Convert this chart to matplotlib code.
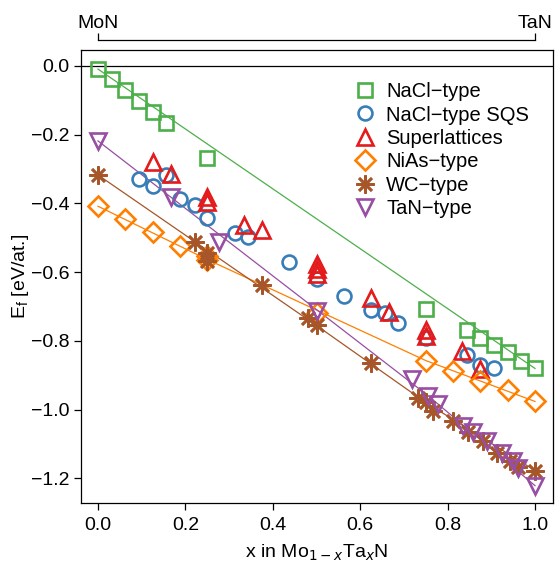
import matplotlib
matplotlib.use("Agg")
import matplotlib.pyplot as plt

plt.rcParams['font.family'] = ['Liberation Sans', 'DejaVu Sans']

# NaCl-type
nacl_x = [0.0, 0.03125, 0.0625, 0.09375, 0.125, 0.15625, 0.25, 0.75, 0.84375, 0.875, 0.90625, 0.9375, 0.96875, 1.0]
nacl_y = [-0.009, -0.038, -0.070, -0.102, -0.134, -0.166, -0.269, -0.706, -0.769, -0.790, -0.811, -0.833, -0.857, -0.880]

# NaCl-type SQS
sqs_x = [0.09375, 0.125, 0.15625, 0.1875, 0.222, 0.25, 0.3125, 0.34375, 0.4375, 0.5, 0.5625, 0.625, 0.65625, 0.6875, 0.75, 0.84375, 0.875, 0.90625]
sqs_y = [-0.329, -0.350, -0.318, -0.387, -0.405, -0.443, -0.487, -0.498, -0.571, -0.620, -0.670, -0.709, -0.719, -0.749, -0.790, -0.842, -0.871, -0.880]

# Superlattices
sl_x = [0.125, 0.1667, 0.25, 0.25, 0.3333, 0.375, 0.5, 0.5, 0.5, 0.625, 0.6667, 0.75, 0.75, 0.8333, 0.875]
sl_y = [-0.279, -0.315, -0.382, -0.396, -0.464, -0.478, -0.575, -0.590, -0.605, -0.676, -0.717, -0.769, -0.787, -0.830, -0.882]

# NiAs-type
nias_x = [0.0, 0.0625, 0.125, 0.1875, 0.25, 0.25, 0.5, 0.75, 0.8125, 0.875, 0.9375, 1.0]
nias_y = [-0.408, -0.446, -0.484, -0.524, -0.553, -0.563, -0.719, -0.857, -0.886, -0.916, -0.944, -0.976]
nias_line_x = [0.0, 0.25, 0.75, 1.0]
nias_line_y = [-0.408, -0.563, -0.857, -0.976]

# WC-type
wc_x = [0.0, 0.222, 0.25, 0.25, 0.375, 0.48, 0.5, 0.625, 0.732, 0.75, 0.767, 0.8125, 0.847, 0.881, 0.913, 0.943, 0.961, 1.0]
wc_y = [-0.317, -0.513, -0.543, -0.566, -0.638, -0.734, -0.755, -0.865, -0.965, -0.979, -1.003, -1.032, -1.066, -1.090, -1.125, -1.149, -1.168, -1.177]
wc_line_x = [0.0, 0.5, 0.75, 1.0]
wc_line_y = [-0.317, -0.755, -0.979, -1.177]

# TaN-type
tan_x = [0.0, 0.1667, 0.2778, 0.5, 0.718, 0.755, 0.778, 0.835, 0.858, 0.89, 0.924, 0.95, 0.96, 1.0]
tan_y = [-0.218, -0.382, -0.513, -0.712, -0.910, -0.959, -0.982, -1.047, -1.066, -1.090, -1.125, -1.149, -1.171, -1.221]
tan_line_x = [0.0, 0.755, 1.0]
tan_line_y = [-0.218, -0.959, -1.221]

fs = 14
W, H = 557, 572
fig = plt.figure(figsize=(W/100, H/100), dpi=100)
ax = fig.add_axes([80.5/W, 1 - 502.5/H, (552.5-80.5)/W, (502.5-49.5)/H])

ax.axhline(0, color='black', lw=0.9, zorder=1)

# reference lines
ax.plot([nacl_x[0], nacl_x[-1]], [nacl_y[0], nacl_y[-1]], color='#4DAF4A', lw=0.9, zorder=2)
ax.plot(nias_line_x, nias_line_y, color='#FF7F00', lw=0.9, zorder=2)
ax.plot(wc_line_x, wc_line_y, color='#A65628', lw=0.9, zorder=2)
ax.plot(tan_line_x, tan_line_y, color='#984EA3', lw=0.9, zorder=2)

mew = 1.9
ax.plot(nacl_x, nacl_y, ls='none', marker='s', ms=9.5, mfc='none', mec='#4DAF4A', mew=mew, label='NaCl\u2212type', zorder=3)
ax.plot(sqs_x, sqs_y, ls='none', marker='o', ms=10, mfc='none', mec='#377EB8', mew=mew, label='NaCl\u2212type SQS', zorder=3)
ax.plot(sl_x, sl_y, ls='none', marker='^', ms=12, mfc='none', mec='#E41A1C', mew=mew, label='Superlattices', zorder=3)
ax.plot(nias_x, nias_y, ls='none', marker='D', ms=10, mfc='none', mec='#FF7F00', mew=mew, label='NiAs\u2212type', zorder=3)
ax.plot(wc_x, wc_y, ls='none', marker=(8, 2, 0), ms=13, mfc='none', mec='#A65628', mew=mew, label='WC\u2212type', zorder=3)
ax.plot(tan_x, tan_y, ls='none', marker='v', ms=12, mfc='none', mec='#984EA3', mew=mew, label='TaN\u2212type', zorder=3)

ax.set_xlim(-0.04, 1.04)
ax.set_ylim(-1.27, 0.048)
ax.set_xticks([0, 0.2, 0.4, 0.6, 0.8, 1.0])
ax.set_xticklabels(['0.0', '0.2', '0.4', '0.6', '0.8', '1.0'])
ax.set_yticks([0, -0.2, -0.4, -0.6, -0.8, -1.0, -1.2])
ax.set_yticklabels(['0.0', '\u22120.2', '\u22120.4', '\u22120.6', '\u22120.8', '\u22121.0', '\u22121.2'])
ax.tick_params(axis='both', direction='out', length=5, width=0.9, labelsize=fs, pad=3)
ax.tick_params(axis='x', pad=5.5)
for s in ax.spines.values():
    s.set_linewidth(0.9)

ax.set_xlabel('x in Mo$_{1\u2212x}$Ta$_x$N', fontsize=fs, labelpad=6)
ax.set_ylabel('E$_\\mathregular{f}$ [eV/at.]', fontsize=fs, labelpad=0)

# top axis: end members
ax2 = ax.twiny()
ax2.set_xlim(ax.get_xlim())
ax2.set_xticks([0, 1])
ax2.set_xticklabels(['MoN', 'TaN'])
ax2.tick_params(axis='x', direction='out', length=5, width=0.9, labelsize=fs, pad=1)
for k in ['left', 'right', 'bottom']:
    ax2.spines[k].set_visible(False)
ax2.spines['top'].set_bounds(0, 1)
ax2.spines['top'].set_position(('outward', 6.5))
ax2.spines['top'].set_linewidth(0.9)

ax.legend(loc='upper left', bbox_to_anchor=(0.573, 0.928), frameon=False, fontsize=14.5,
          handletextpad=0.35, labelspacing=0.22, borderaxespad=0, handlelength=1.4,
          borderpad=0)

fig.savefig('out.png', dpi=100)
